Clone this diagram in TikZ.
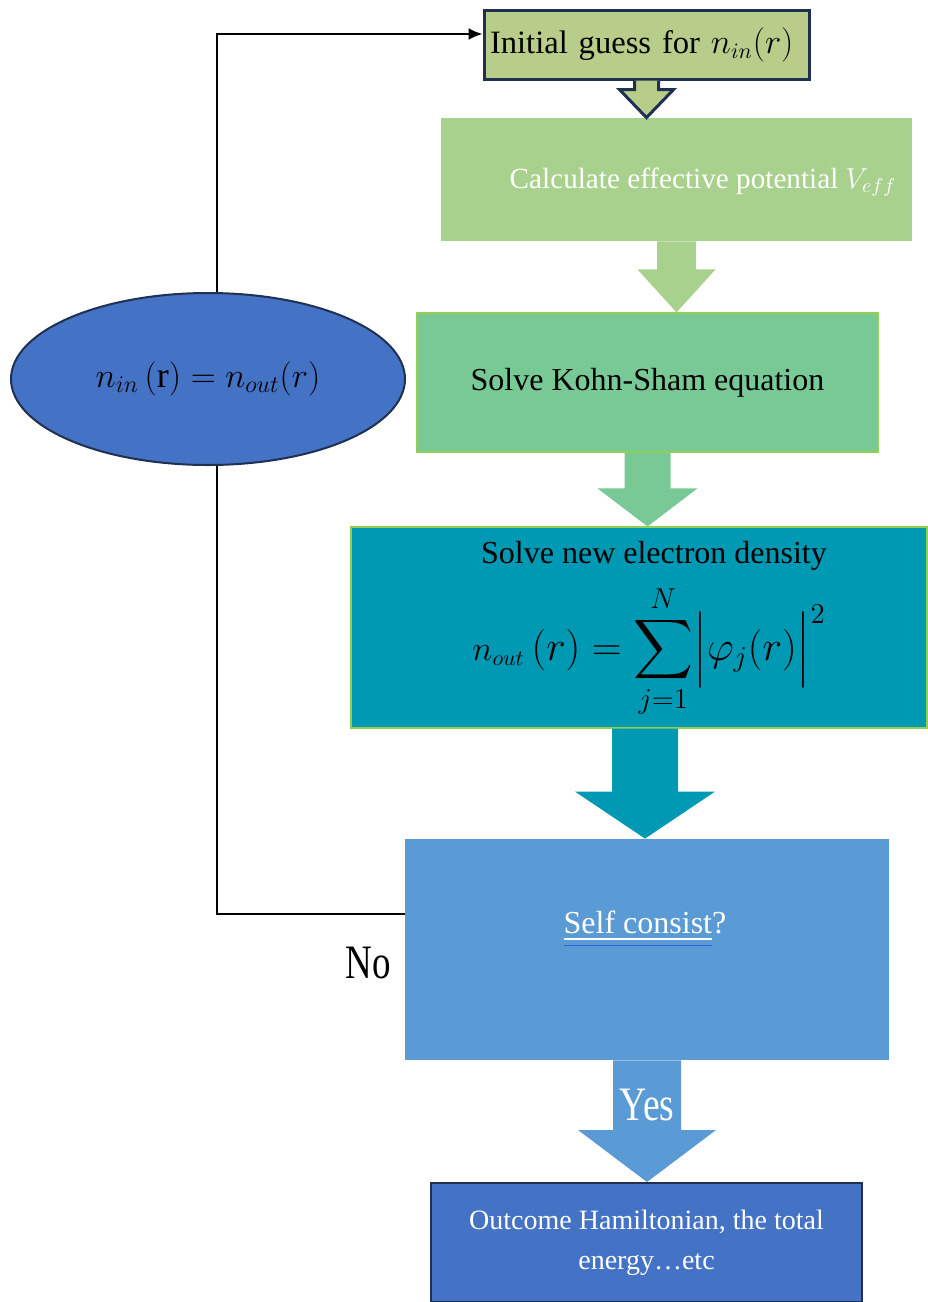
\documentclass[tikz,border=0pt]{standalone}
\usepackage{exscale}
\usepackage{fontspec}
\setmainfont{Liberation Serif}
\usetikzlibrary{shapes.geometric,arrows.meta,calc}

\definecolor{initgreen}{RGB}{183,205,137}
\definecolor{calcgreen}{RGB}{169,209,142}
\definecolor{kohngreen}{RGB}{120,201,150}
\definecolor{densteal}{RGB}{0,153,180}
\definecolor{selfblue}{RGB}{91,155,213}
\definecolor{outblue}{RGB}{68,114,196}
\definecolor{darknavy}{RGB}{31,48,80}
\definecolor{edgegreen}{RGB}{146,208,80}
\definecolor{linkblue}{RGB}{50,100,220}

% style, from, tip, stem half width, head half width, head length
\newcommand{\blockarrow}[6]{%
  \path[#1] ($(#2)+(-#4,0)$) -- ($(#3)+(-#4,-#6)$) -- ($(#3)+(-#5,-#6)$) -- (#3)
    -- ($(#3)+(#5,-#6)$) -- ($(#3)+(#4,-#6)$) -- ($(#2)+(#4,0)$);
}

\begin{document}
\begin{tikzpicture}[x=0.5pt, y=-0.5pt,
  box/.style={rectangle, inner sep=0pt},
  loopline/.style={line width=1pt, black}]
\useasboundingbox (0,0) rectangle (927,1302);

\node[box, fill=initgreen, draw=darknavy, line width=1.5pt, minimum width=162.5pt, minimum height=34.5pt, text width=156.5pt, align=left, inner xsep=3pt, font=\fontsize{16.3}{19}\selectfont] (init) at (646.5,44.5) {Initial guess for $n_{in}(r)$};

\node[box, fill=calcgreen, minimum width=235.5pt, minimum height=61.5pt] (calc) at (676.5,179.5) {};
\node[text=white, font=\fontsize{14.6}{17}\selectfont] (calctext) at ([xshift=13.25pt,yshift=-1.25pt]calc.center) {Calculate effective potential $V_{eff}$};

\node[box, fill=kohngreen, draw=edgegreen, line width=0.6pt, minimum width=230.5pt, minimum height=69.5pt, font=\fontsize{16}{19}\selectfont] (kohn) at (647.5,382.5) {Solve Kohn-Sham equation};

\node[box, fill=densteal, draw=edgegreen, line width=0.6pt, minimum width=288pt, minimum height=100.5pt] (dens) at (639,627.5) {};
\node[font=\fontsize{16}{19}\selectfont, inner sep=0pt] (denstext) at ([xshift=7.5pt,yshift=-14.5pt]dens.north) {Solve new electron density};
\node[font=\fontsize{21}{25}\selectfont, inner sep=0pt] (denseq) at ([xshift=5pt,yshift=-12pt]dens.center) {{\fontsize{16}{19}\selectfont$n_{out}$}\,$(r) = \displaystyle\sum_{j=1}^{N}\Bigl|\varphi_j(r)\Bigr|^2$};

\node[box, fill=selfblue, minimum width=242pt, minimum height=110.5pt] (self) at (647,949.5) {};
\node[text=white, font=\fontsize{16}{19}\selectfont] (selftext) at ([xshift=-1pt,yshift=10pt]self.center) {{\color{linkblue}\underline{{\color{white}\underline{Self consist}}}}?};

\node[box, fill=outblue, draw=darknavy, line width=1pt, minimum width=215.5pt, minimum height=59.5pt, text=white, align=center, font=\fontsize{14}{20}\selectfont] (outc) at (646.5,1242.5) {Outcome Hamiltonian, the total\\energy…etc};

% block arrows
\coordinate (a1) at (init.south);
\coordinate (a1tip) at (calc.north -| init.south);
\blockarrow{fill=initgreen, draw=darknavy, line width=1.5pt}{a1}{a1tip}{12}{27}{28}
\coordinate (a2) at (calc.south);
\coordinate (a2tip) at (kohn.north -| calc.south);
\blockarrow{fill=calcgreen}{a2}{a2tip}{19.5}{39}{43}
\coordinate (a3) at (kohn.south);
\coordinate (a3tip) at (dens.north -| kohn.south);
\blockarrow{fill=kohngreen}{a3}{a3tip}{23}{50}{38}
\coordinate (a4) at ([xshift=3pt]dens.south);
\coordinate (a4tip) at (self.north -| a4);
\blockarrow{fill=densteal}{a4}{a4tip}{33}{70}{47}
\coordinate (a5) at (self.south);
\coordinate (a5tip) at (outc.north -| self.south);
\blockarrow{fill=selfblue}{a5}{a5tip}{34}{69}{52}

\node[text=white, font=\fontsize{24}{28}\selectfont] (yes) at ([yshift=-22.5pt]a5) {\scalebox{0.78}[1]{Yes}};

% loop back
\draw[loopline, -{Latex[length=7pt,width=6pt]}] ([yshift=17.75pt]self.west) -- ++(-188,0) |- ([yshift=5.25pt]init.west);
\node[font=\fontsize{24}{28}\selectfont] (no) at (368,963) {\scalebox{0.77}[1]{No}};

\node[ellipse, fill=outblue, draw=darknavy, line width=1pt, minimum width=197pt, minimum height=86pt, inner sep=0pt, font=\fontsize{18}{22}\selectfont] (conv) at (208,379) {$n_{in}\,(\mathrm{r}) = n_{out}(r)$};

\end{tikzpicture}
\end{document}
